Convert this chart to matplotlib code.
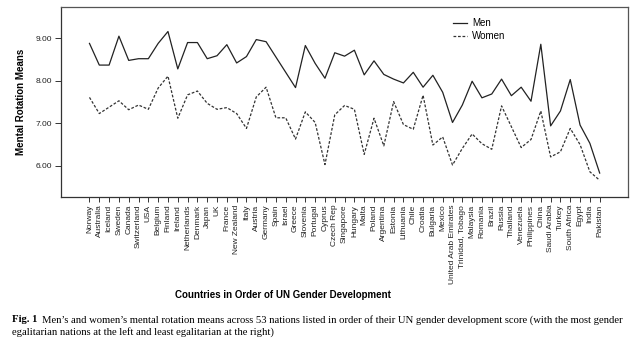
#!/usr/bin/env python3
"""Men's and women's mental rotation means across 53 nations (Fig. 1)."""

import matplotlib
matplotlib.use("Agg")
import matplotlib.pyplot as plt

countries = [
    "Norway", "Australia", "Iceland", "Sweden", "Canada", "Switzerland", "USA",
    "Belgium", "Finland", "Ireland", "Netherlands", "Denmark", "Japan", "UK",
    "France", "New Zealand", "Italy", "Austria", "Germany", "Spain", "Israel",
    "Greece", "Slovenia", "Portugal", "Cyprus", "Czech Rep", "Singapore",
    "Hungary", "Malta", "Poland", "Argentina", "Estonia", "Lithuania", "Chile",
    "Croatia", "Bulgaria", "Mexico", "United Arab Emirates", "Trinidad, Tobago",
    "Malaysia", "Romania", "Brazil", "Russia", "Thailand", "Venezuela",
    "Philippines", "China", "Saudi Arabia", "Turkey", "South Africa", "Egypt",
    "India", "Pakistan",
]

men = [
    8.88, 8.37, 8.37, 9.05, 8.48, 8.52, 8.52, 8.88, 9.16, 8.28, 8.90, 8.90,
    8.52, 8.59, 8.85, 8.42, 8.57, 8.97, 8.92, 8.56, 8.20, 7.84, 8.83, 8.41,
    8.06, 8.66, 8.58, 8.72, 8.14, 8.47, 8.15, 8.04, 7.95, 8.20, 7.85, 8.13,
    7.73, 7.02, 7.43, 7.99, 7.60, 7.69, 8.04, 7.65, 7.85, 7.52, 8.86, 6.94,
    7.29, 8.03, 6.96, 6.53, 5.83,
]

women = [
    7.61, 7.23, 7.38, 7.53, 7.32, 7.43, 7.33, 7.83, 8.11, 7.12, 7.67, 7.76,
    7.47, 7.33, 7.37, 7.23, 6.88, 7.62, 7.85, 7.13, 7.13, 6.63, 7.27, 7.02,
    6.03, 7.20, 7.42, 7.33, 6.27, 7.12, 6.47, 7.51, 6.97, 6.86, 7.66, 6.49,
    6.68, 6.02, 6.41, 6.75, 6.52, 6.39, 7.41, 6.92, 6.43, 6.62, 7.29, 6.21,
    6.33, 6.88, 6.50, 5.86, 5.66,
]

yticks = [6.0, 7.0, 8.0, 9.0]

SANS = ["Liberation Sans", "DejaVu Sans"]
SERIF = ["Liberation Serif", "DejaVu Serif"]
FRAME = "#555555"


def main():
    fig = plt.figure(figsize=(6.39, 3.46), dpi=100)
    ax = fig.add_axes([0.0955, 0.431, 0.8875, 0.548])

    x = list(range(1, len(countries) + 1))
    ax.plot(x, men, color="#222222", lw=0.9, label="Men")
    ax.plot(x, women, color="#333333", lw=0.9, ls=(0, (2.2, 1.4)),
            label="Women")

    ax.set_xlim(-1.9, 55.9)
    ax.set_ylim(5.27, 9.73)
    ax.set_xticks(x)
    ax.set_xticklabels(countries, rotation=90, fontsize=6, family=SANS,
                       color="#222222")
    ax.set_yticks(yticks)
    ax.set_yticklabels([f"{v:.2f}" for v in yticks], fontsize=6,
                       family=SANS, color="#222222")
    ax.tick_params(axis="x", length=3.6, width=0.7, color="#333333", pad=2)
    ax.tick_params(axis="y", length=4.3, width=0.7, color="#333333", pad=2)
    for s in ax.spines.values():
        s.set_color(FRAME)
        s.set_linewidth(0.9)
    ax.spines["left"].set_color("#333333")
    ax.spines["bottom"].set_color("#333333")

    ax.set_ylabel("Mental Rotation Means", fontsize=7, fontweight="bold",
                  family=SANS, labelpad=7)
    fig.text(0.443, 1 - 295 / 346, "Countries in Order of UN Gender Development",
             fontsize=7, fontweight="bold", family=SANS, ha="center",
             va="center")

    ax.legend(loc="upper left", bbox_to_anchor=(0.675, 0.99),
              frameon=False, handlelength=1.5, handletextpad=0.5,
              labelspacing=0.35, prop={"family": SANS, "size": 7})

    # caption
    y1 = 1 - 320 / 346
    y2 = 1 - 332 / 346
    fig_lbl = fig.text(12 / 639, y1, "Fig. 1", fontsize=7.7, fontweight="bold",
                       family=SERIF, va="center")
    fig.canvas.draw()
    bb = fig_lbl.get_window_extent()
    fig.text((bb.x1 + 5) / 639, y1,
             "Men\u2019s and women\u2019s mental rotation means across 53 nations "
             "listed in order of their UN gender development score (with the "
             "most gender", fontsize=7.7, family=SERIF, va="center")
    fig.text(12 / 639, y2,
             "egalitarian nations at the left and least egalitarian at the right)",
             fontsize=7.7, family=SERIF, va="center")

    fig.savefig("out.png", dpi=100)


if __name__ == "__main__":
    main()
